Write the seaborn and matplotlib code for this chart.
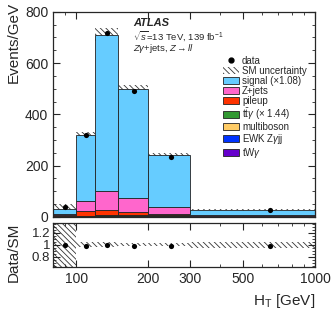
import numpy as np
import pandas as pd
import matplotlib
matplotlib.use('Agg')
import matplotlib.pyplot as plt
import seaborn as sns
from matplotlib.patches import Patch
from matplotlib.lines import Line2D
from matplotlib.ticker import AutoMinorLocator, FixedLocator, MultipleLocator, NullFormatter

sns.set_style('ticks')
plt.rcParams['font.family'] = ['Liberation Sans', 'DejaVu Sans']
plt.rcParams['mathtext.fontset'] = 'custom'
plt.rcParams['mathtext.rm'] = 'Liberation Sans'
plt.rcParams['mathtext.it'] = 'Liberation Sans:italic'
plt.rcParams['mathtext.bf'] = 'Liberation Sans:bold'
plt.rcParams['hatch.linewidth'] = 0.6

HATCH = '\\' * 6

# bins in HT [GeV]
edges = [80, 100, 120, 150, 200, 300, 1000]
centers = [90, 110, 135, 175, 250, 650]

# events / GeV per process (stack order top -> bottom)
procs = ['signal', 'zjets', 'pileup', 'ttg', 'multiboson', 'ewk', 'twg']
signal = [20, 256, 606, 426, 201, 20]
zjets = [1, 40, 76, 54, 26, 5]
pileup = [7, 19, 20, 12, 4, 1]
ttg = [1, 2, 3, 4, 5, 1.2]
multiboson = [0.4, 1, 1.5, 1.5, 1.5, 0.4]
ewk = [0.3, 1, 1.5, 2, 2, 0.6]
twg = [0.1, 0.3, 0.5, 0.6, 0.8, 0.2]

data = [37, 318, 718, 490, 233, 27]
rel_unc = [0.75, 0.04, 0.04, 0.03, 0.03, 0.05]
ratio = [1.0, 0.98, 0.99, 0.97, 0.97, 0.97]

colors = {'signal': '#66ccff', 'zjets': '#ff66cc', 'pileup': '#ff3300', 'ttg': '#339933',
          'multiboson': '#ffcc66', 'ewk': '#0033ff', 'twg': '#6600cc'}
labels = {'signal': 'signal (×1.08)', 'zjets': 'Z+jets', 'pileup': 'pileup',
          'ttg': r't$\bar{\mathrm{t}}\gamma$ (× 1.44)', 'multiboson': 'multiboson',
          'ewk': r'EWK Z$\gamma$jj', 'twg': r'tW$\gamma$'}

vals = dict(signal=signal, zjets=zjets, pileup=pileup, ttg=ttg,
            multiboson=multiboson, ewk=ewk, twg=twg)
df = pd.DataFrame([{'ht': c, 'w': vals[p][i], 'proc': p}
                   for p in procs for i, c in enumerate(centers)])
total = df.groupby('ht')['w'].sum().values
err = total * np.array(rel_unc)

fig = plt.figure(figsize=(3.32, 3.19), dpi=100)
ax = fig.add_axes([0.160, 0.320, 0.789, 0.643])
rax = fig.add_axes([0.160, 0.162, 0.789, 0.140], sharex=ax)

# uncertainty band under the stack
ax.bar(edges[:-1], 2 * err, width=np.diff(edges), bottom=total - err, align='edge',
       fill=False, hatch=HATCH, edgecolor='#333333', linewidth=0, zorder=0.5)

sns.histplot(data=df, x='ht', weights='w', hue='proc', hue_order=procs,
             multiple='stack', bins=edges, palette=colors, element='bars',
             edgecolor='#222222', linewidth=0.6, alpha=1, legend=False, ax=ax)

sns.scatterplot(x=centers, y=data, color='black', s=14, linewidth=0, zorder=5, ax=ax)

ax.set_xscale('log')
ax.set_xlim(80, 1000)
ax.set_ylim(0, 800)
ax.set_ylabel('Events/GeV', fontsize=11, loc='top')
ax.yaxis.set_label_coords(-0.125, 1.05)
ax.set_xlabel('')
ax.yaxis.set_major_locator(MultipleLocator(200))
ax.yaxis.set_minor_locator(AutoMinorLocator(4))

ax.text(0.305, 0.945, 'ATLAS', transform=ax.transAxes, fontsize=8,
        fontweight='bold', fontstyle='italic', va='center')
ax.text(0.305, 0.883, r'$\sqrt{s}$=13 TeV, 139 fb$^{-1}$', transform=ax.transAxes,
        fontsize=6.8, va='center')
ax.text(0.305, 0.823, r'$Z\gamma$+jets, $Z\rightarrow ll$', transform=ax.transAxes,
        fontsize=6.8, va='center')

handles = [Line2D([], [], marker='o', color='black', linestyle='none', markersize=3.5),
           Patch(facecolor='white', edgecolor='#333333', hatch=HATCH, linewidth=0)]
handles += [Patch(facecolor=colors[p], edgecolor='#222222', linewidth=0.6) for p in procs]
leg_labels = ['data', 'SM uncertainty'] + [labels[p] for p in procs]
ax.legend(handles, leg_labels, loc='upper left', bbox_to_anchor=(0.672, 0.825),
          bbox_transform=fig.transFigure, frameon=False, fontsize=7,
          borderpad=0, borderaxespad=0, labelspacing=0.0, handlelength=1.6,
          handleheight=0.7, handletextpad=0.35)

# ratio panel
rax.bar(edges[:-1], 2 * np.array(rel_unc), width=np.diff(edges),
        bottom=1 - np.array(rel_unc), align='edge', fill=False, hatch=HATCH,
        edgecolor='#333333', linewidth=0, zorder=0.5)
sns.scatterplot(x=centers, y=ratio, color='black', s=14, linewidth=0, zorder=5, ax=rax)
rax.set_ylim(0.62, 1.37)
rax.set_xlim(80, 1000)
rax.yaxis.set_major_locator(FixedLocator([0.8, 1.0, 1.2]))
rax.set_yticklabels(['0.8', '1', '1.2'])
rax.yaxis.set_minor_locator(MultipleLocator(0.05))
rax.set_ylabel('Data/SM', fontsize=11, loc='top')
rax.yaxis.set_label_coords(-0.125, 1.0)
rax.set_xlabel(r'H$_{\mathrm{T}}$ [GeV]', fontsize=11, loc='right')

rax.xaxis.set_major_locator(FixedLocator([100, 200, 300, 500, 1000]))
rax.xaxis.set_minor_formatter(NullFormatter())
rax.set_xticklabels(['100', '200', '300', '500', '1000'])
plt.setp(ax.get_xticklabels(), visible=False)
plt.setp(ax.get_xticklabels(minor=True), visible=False)

for a in (ax, rax):
    a.tick_params(which='both', direction='in', top=True, right=True, labelsize=10)
    a.tick_params(which='major', length=5)
    a.tick_params(which='minor', length=2.5)
    for s in a.spines.values():
        s.set_linewidth(0.9)
rax.tick_params(axis='y', labelsize=9.5, pad=2)

fig.savefig('out.png', dpi=100)
